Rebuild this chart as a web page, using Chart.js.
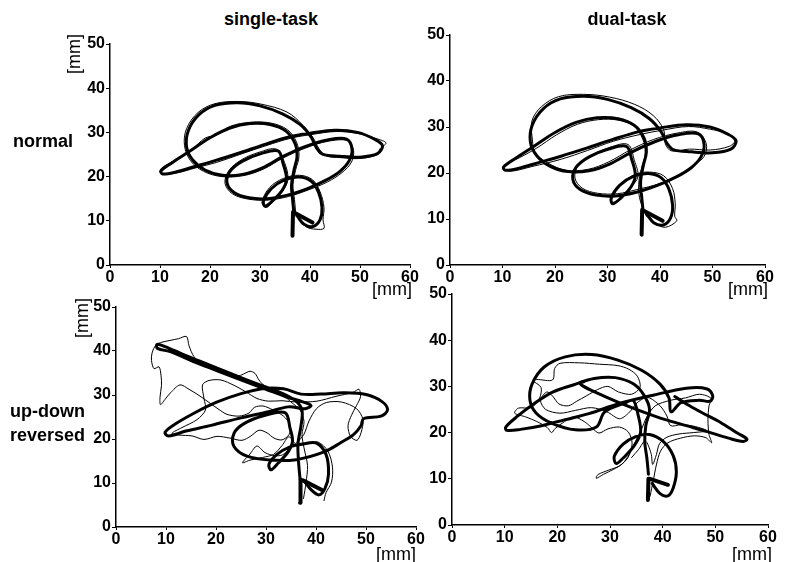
<!DOCTYPE html>
<html><head><meta charset="utf-8">
<script src="https://cdn.jsdelivr.net/npm/chart.js@4/dist/chart.umd.min.js"></script>
<style>
html,body{margin:0;padding:0;background:#fff}
body{width:786px;height:562px;position:relative;overflow:hidden;font-family:"Liberation Sans",Arial,sans-serif;color:#000}
canvas{position:absolute}
.t{position:absolute;white-space:nowrap;line-height:1;transform:translate(-50%,-50%)}
.b{font-weight:bold;font-size:18px}
.l{position:absolute;white-space:nowrap;line-height:1;font-weight:bold;font-size:18px}
.u{font-size:18px}
.v{transform:translate(-50%,-50%) rotate(-90deg)}
</style></head><body>
<canvas id="c1"></canvas><canvas id="c2"></canvas><canvas id="c3"></canvas><canvas id="c4"></canvas>
<div class="t b" style="left:271px;top:19px">single-task</div>
<div class="t b" style="left:627px;top:19px">dual-task</div>
<div class="l" style="left:13px;top:132px">normal</div>
<div class="l" style="left:10px;top:402px">up-down</div>
<div class="l" style="left:10px;top:426px">reversed</div>
<div class="t u v" style="left:74px;top:54px">[mm]</div>
<div class="t u v" style="left:82px;top:318px">[mm]</div>
<div class="t u" style="left:392px;top:289px">[mm]</div>
<div class="t u" style="left:748px;top:289px">[mm]</div>
<div class="t u" style="left:396px;top:554px">[mm]</div>
<div class="t u" style="left:752px;top:554px">[mm]</div>
<script>
// axis ticks
const xTicks = [0, 10, 20, 30, 40, 50, 60];
const yTicks = [0, 10, 20, 30, 40, 50];

// target pattern (thick) used in the normal condition [x mm, y mm]
const targetPath = [[36.8,11.5],[36.5,15],[36.3,18],[36.8,21.5],[37.4,24.5],[37,27.5],[35.2,30.3],[32,31.8],[28,32],[24,31],[20,28.8],[16,25.8],[12.5,23.2],[10.2,21.3],[10.5,20.6],[13,21],[17,22.3],[21,23.6],[26,25.4],[31,27.3],[36,29],[40,29.8],[45,30.5],[49.5,30],[53,28.4],[54.5,27],[53.5,25.2],[50,24.4],[46,24.6],[42.5,25.1],[41.3,26.5],[40.2,29],[38,31.8],[34.5,34.2],[30,36],[25.5,36.7],[21,36.1],[17.8,34],[15.7,30.5],[15.3,26.8],[16.5,23.8],[19,21.5],[22.5,20.3],[26.5,20.5],[30.5,22],[34.5,24.5],[39,26.8],[43.5,28.3],[47.3,28.5],[48.4,26.2],[47.8,23.5],[46,21.2],[43.2,19.2],[39.5,17.3],[35.5,15.8],[31.5,15],[27.8,15.2],[24.8,16.4],[23.4,18.6],[24,21.2],[26.5,23.5],[30.2,25.2],[33.6,25.8],[34.6,23],[35.3,19.5],[34.5,17],[32.5,14.5],[31,13.3],[30.7,14.5],[32.3,17.3],[35,19.3],[37.8,19.9],[40.2,19],[41.7,16.5],[42.4,13],[42,10.2],[40.6,8.7],[38.8,9.2],[37.5,11]];
const arrowTopStem = [[36.5,6.6],[36.6,12]];
const arrowTopHead = [[36.9,11.8],[40.5,9.6]];

// normal / single-task thin trace
const normSingleThin = [[37.2,11],[36.9,14.8],[36.6,18.2],[37.1,21.4],[37.8,24.6],[37.3,27.8],[35.5,30.6],[32.2,32.1],[28.2,32.3],[24.1,31.4],[21.2,29.4],[19,28.7],[16.4,26.2],[12.8,23.6],[10.3,21.9],[10.1,20.8],[12.8,20.7],[17.2,22],[21.3,23.2],[26.2,25.1],[31.2,27],[36.2,28.7],[40.2,29.5],[45.2,30.2],[49.8,29.7],[53.8,28.4],[55.2,27.6],[54,26.3],[53.5,25],[50,24.1],[46,24.3],[43.2,24.7],[41.8,26.3],[40.6,28.8],[38.6,31.6],[35.4,34.6],[30.2,36.4],[25.6,37],[21,36.5],[17.6,34.5],[15.3,30.8],[14.9,27],[16.1,23.6],[18.7,21.2],[22.4,20],[26.6,20.2],[30.7,21.7],[34.6,24.2],[39.2,26.5],[43.6,28],[47.6,28.1],[48.7,26],[48.3,23.3],[46.4,20.9],[43.5,18.8],[39.7,17],[35.7,15.5],[31.6,14.7],[27.7,14.9],[24.5,16.1],[23,18.5],[23.8,21.4],[26.3,23.8],[29.8,25.5],[33.3,26.2],[34.9,23.2],[35.6,19.6],[34.8,17.2],[32.8,14.7],[31.3,13],[30.4,14.2],[31.9,17.5],[34.7,19.6],[37.9,20.3],[40.5,19.3],[42,16.6],[42.8,13],[42.6,10.2],[42.8,8.3],[41.2,8.1],[39.3,8.6],[37.9,10.6]];

// normal / dual-task thin trace
const normDualThin = [[37.4,10.6],[36.1,14.6],[36,18.4],[36.6,21.6],[37.2,24.3],[36.7,27.4],[35,30.2],[32,31.5],[28.3,31.6],[24.3,30.6],[20.3,28.3],[16.5,25.4],[13.2,23.3],[10.8,22],[10,21],[11.6,20.4],[15.6,21.4],[21.2,23],[26.2,24.9],[31.1,26.9],[36.3,28.4],[40.4,29.3],[45.4,30.1],[49.6,29.5],[52.6,28.6],[54.2,27],[53.2,25.8],[49.6,25],[45.6,25.2],[42.2,24.8],[41,26.4],[40.7,29.4],[38.7,32.5],[35.2,34.9],[30.4,36.5],[25.4,37.1],[20.7,36.6],[17.4,34.4],[15.6,31.3],[15.7,27.2],[16.2,24.4],[18.6,22.2],[22.1,20.6],[26.3,20.8],[30.2,22.4],[34.3,25],[38.8,27.3],[43.4,28.7],[47.1,28.9],[48.8,26.4],[48.4,23.6],[46.5,21.8],[43.6,19.6],[39.9,17.7],[35.6,16.4],[31.9,15.5],[28.1,15.6],[25.2,16.7],[23.8,18.9],[24.4,21.6],[26.9,23.8],[30.5,25.6],[33.9,26.2],[35.1,22.8],[35.8,19.2],[34.3,16.8],[32.2,14.3],[30.8,13.6],[31,14.9],[32.6,17.6],[35.3,19.7],[38,20.2],[40.7,19.4],[42.4,16.6],[42.9,13.3],[42.8,10.6],[43.2,9.6],[41,8.2],[39.1,9.1],[37.8,10.8]];

// up-down reversed / single-task
const revSingleThick = [[36.8,11],[36.5,15],[36.4,19],[37,23],[37.2,26.5],[36,28.6],[33,30.5],[28.5,32.4],[23.5,34.6],[18.5,36.9],[13.5,39.2],[9.8,41],[8.2,41.5],[8.3,40.6],[11,39.8],[15.5,37.6],[20.5,35.4],[25.5,33.2],[30,31.3],[34,29.6],[37.5,28.4],[39,27.6],[37.8,26.9],[34.5,27.3],[30.5,26.2],[25,24.8],[19,23.1],[14,21.8],[10.5,20.7],[9.8,21.5],[12,23.5],[15.5,25.8],[20,28.3],[25,30.3],[29.5,31.5],[33.5,31.4],[37,30.2],[41,30.2],[45.5,30.5],[50,30.1],[53.2,28.5],[54.3,26.6],[53,25.2],[49.5,24.6],[49,23],[47.5,21],[45,19.2],[41.5,17],[36,15.3],[30.8,15.2],[26.2,16.1],[23.6,18.3],[23.6,21.3],[25.6,23.5],[29.5,25.3],[33.8,26],[34.8,22.5],[35.3,19.5],[34.5,17.2],[32.5,14.6],[31,13],[30.6,14.3],[32.2,16.5],[34.8,18.2],[37.5,18.9],[40,19.1],[42,16.5],[42.5,12],[41.8,8.8],[40.6,7.3],[39,8.5],[37.6,10.5]];
const revSingleThin = [[37.5,6.5],[38,10],[38.3,14],[37.6,18],[37.2,21],[37.6,24],[36.8,26.6],[35,28.4],[33.2,30.2],[31.2,31.4],[29.6,32.2],[28.6,33.4],[27.8,34.9],[26.8,35.4],[25.2,34.6],[24,34.2],[22.2,34.9],[19.7,35.6],[17.4,36.8],[15.6,38.7],[14.6,41.2],[14.1,43.3],[12.5,42.8],[10.8,42.4],[9.2,42],[8,41.4],[7.2,39.5],[7.1,37.8],[7.6,36],[8.6,36.4],[9,34.5],[9.1,32.2],[8.8,29.5],[8.9,27.8],[9.8,29],[10.9,30.5],[12.8,32.3],[14.6,31.3],[16.6,29.9],[18.6,28.3],[20.6,26.7],[22.2,25.6],[24.6,25.2],[26.6,25.9],[27.7,27.2],[29.4,27.5],[31.4,26.6],[33.5,25.2],[34.8,23.2],[34.6,21],[33.2,19.8],[31.6,20.2],[30.2,21.4],[28.6,22],[27,20.7],[25.2,19.7],[22.8,20.2],[20.2,20.6],[17.6,19.9],[15.2,20.7],[12.6,20.9],[11.2,21.3],[13.2,22.6],[16.2,24.4],[17.9,26.6],[17.6,29.2],[17.3,32.3],[18.6,33.3],[21,33.4],[23.6,32.2],[26,30.7],[28.2,29.2],[30.5,28.6],[33.2,28.7],[36.2,28.4],[40.2,28.6],[44,29.7],[47.4,30.6],[48.6,31.3],[48.9,29.6],[48.1,27.6],[47.1,25.4],[46.4,23],[46.9,20.6],[48.2,19.7],[49,21.4],[49.4,24.4],[48.1,26.9],[45.1,28.4],[42.1,28.3],[40.1,26.9],[38.6,24.1],[37.6,21.1],[36.1,19.1],[34.5,17.6],[33.3,16.4],[31.8,16.2],[29.8,16.9],[28.2,18.4],[26.8,16.6],[25.3,14.6],[26.8,15.2],[29.3,15.8],[31.5,16.5],[33.2,18.5],[34.6,20.5],[36.2,18.6],[38.2,18.9],[40.4,19.3],[42.4,17.2],[43.3,13.6],[43.1,10.2],[42,7.8],[41.6,6]];
const arrowRevSingleStem = [[36.8,5.5],[36.9,10.8]];
const arrowRevSingleHead = [[37.4,10.6],[41.2,8.4]];

// up-down reversed / dual-task
const revDualThick = [[37.3,11],[37,14.5],[36.6,18],[36.8,21.5],[37.5,25],[36.5,28],[34.5,30.5],[31,31.9],[27,31.7],[23,30.3],[19.2,28.8],[15.5,26.2],[12.5,23.6],[10.2,21.2],[10.4,20.5],[13,20.7],[17,21.5],[21.5,22.8],[26,24.1],[31.8,26.3],[38.2,28.1],[44.5,29.6],[48.3,29.5],[49.5,28],[49,26.8],[47,27],[43.5,26.5],[41.6,24.5],[41.2,27.5],[39.5,30.5],[36,33.5],[31.5,35.7],[26.5,36.9],[21.5,36.4],[17.5,34.2],[15.2,30.5],[14.8,27],[16,24.2],[19,22],[23.4,20.6],[27.4,21.2],[29,24.5],[33,26.5],[34.4,27],[35.3,24],[35.8,20],[34.5,17],[32.5,14.5],[31.2,13.3],[30.8,14.8],[32.5,17.5],[35,19.2],[37.5,19.6],[40.2,18],[42,15],[42.6,11.5],[42,8],[41,6.3],[39.5,6.8],[38,9]];
const revDualLoop = [[42.3,27.8],[44.5,26.2],[47.5,24.3],[51,22.2],[54,20],[56,18.6],[55.3,18.1],[52.5,18.8],[48.5,20.2],[44.5,21.5],[40.5,22.8],[36,24.6],[31.5,26.6],[27.5,28.6],[25,30],[24.3,30.8],[25,31]];
const revDualThin = [[37.6,6.2],[38.2,9.5],[38.8,13],[39.6,16],[41,17.8],[43.4,18.8],[46,19.3],[48.2,18.9],[49.3,17.8],[48.8,19.6],[48.6,22.8],[48.8,25.8],[49.2,27.4],[47,28.3],[44.3,27.5],[41.5,27],[38.6,25.8],[37,23.4],[35.9,20.5],[34.7,17.8],[33.7,15.4],[32.4,13.3],[30.6,12],[28.8,11],[27.4,10.1],[27.7,10.9],[29.8,11.9],[31.8,12.8],[33.4,14.6],[34.2,17.6],[33.5,20.1],[31.8,21.2],[29.6,20.8],[27.9,19.9],[26.6,21],[25.1,22.4],[23.1,23.4],[21.4,22.4],[19.6,20.9],[18.9,20],[18.1,21.1],[16.1,22.4],[14,23.4],[11.9,24.2],[12.6,25.3],[15,25.4],[16.6,27.4],[16.9,29.8],[15.3,31.3],[16.1,31.5],[19.1,31.4],[19.5,33.9],[20.5,35],[24.2,35.1],[28,34.8],[31.5,34.5],[33.6,33.7],[35.2,32.2],[35.7,29.8],[34.1,28.3],[31.6,28.8],[29.6,30],[27.6,29.3],[25.6,28],[23.7,26.8],[22.1,25.8],[20.3,26.2],[19.1,27.9],[18,28.8],[16.8,27],[17.8,25],[20.5,24.2],[23.4,24.8],[26.5,25.4],[29.4,24.5],[31.8,23],[33.5,24.2],[35.3,26.6],[37.2,27.6],[39.5,25.8],[40.8,23.6],[41.5,21.5],[43.5,21.7],[46.2,21.3],[48.4,20.4],[45.8,20],[43.1,19.7],[40.8,19],[39.4,17.6],[38.8,15.2],[38.1,13.1],[37.8,15.5],[36.7,18.2],[35.4,16.3],[34.1,14.6]];
const arrowRevDualStem = [[37.2,5.4],[37.3,10]];
const arrowRevDualHead = [[37.6,10],[41,8.7]];

function trace(points, width, tension) {
  return {
    data: points.map(p => ({x: p[0], y: p[1]})),
    showLine: true, borderColor: '#000', borderWidth: width,
    pointRadius: 0, pointHoverRadius: 0, tension: tension,
    borderCapStyle: 'round', borderJoinStyle: 'round', fill: false
  };
}

function makeChart(id, area, datasets) {
  const padL = 46, padR = 16, padT = 12, padB = 26;
  const cv = document.getElementById(id);
  const w = area.right - area.left + padL + padR;
  const h = area.bottom - area.top + padT + padB;
  cv.style.left = (area.left - padL) + 'px';
  cv.style.top = (area.top - padT) + 'px';
  cv.width = w; cv.height = h;
  cv.style.width = w + 'px'; cv.style.height = h + 'px';
  const tickFont = {family: '"Liberation Sans", Arial, sans-serif', size: 16, weight: 'bold'};
  new Chart(cv, {
    type: 'scatter',
    data: {datasets: datasets},
    options: {
      responsive: false, animation: false,
      layout: {padding: {top: padT, right: padR, left: 0, bottom: 0}},
      plugins: {legend: {display: false}, tooltip: {enabled: false}},
      scales: {
        x: {
          type: 'linear', min: xTicks[0], max: xTicks[xTicks.length - 1],
          afterBuildTicks: s => { s.ticks = xTicks.map(v => ({value: v})); },
          ticks: {color: '#000', font: tickFont, padding: 0, maxRotation: 0, autoSkip: false},
          grid: {drawOnChartArea: false, drawTicks: true, tickLength: 3, tickColor: '#000', tickWidth: 1},
          border: {display: true, color: '#000', width: 1.5},
          afterFit: s => { s.height = padB; }
        },
        y: {
          type: 'linear', min: yTicks[0], max: yTicks[yTicks.length - 1],
          afterBuildTicks: s => { s.ticks = yTicks.map(v => ({value: v})); },
          ticks: {color: '#000', font: tickFont, padding: 1, autoSkip: false},
          grid: {drawOnChartArea: false, drawTicks: true, tickLength: 4, tickColor: '#000', tickWidth: 1},
          border: {display: true, color: '#000', width: 1.5},
          afterFit: s => { s.width = padL; }
        }
      }
    }
  });
}

makeChart('c1', {left: 110, right: 410, top: 44, bottom: 265}, [
  trace(targetPath, 3, 0.35), trace(normSingleThin, 1, 0.35),
  trace(arrowTopStem, 4, 0), trace(arrowTopHead, 4, 0)
]);
makeChart('c2', {left: 450, right: 765, top: 35, bottom: 265}, [
  trace(targetPath, 3, 0.35), trace(normDualThin, 1, 0.35),
  trace(arrowTopStem, 4, 0), trace(arrowTopHead, 4, 0)
]);
makeChart('c3', {left: 116, right: 416, top: 307, bottom: 527}, [
  trace(revSingleThick, 3, 0.35), trace(revSingleThin, 1, 0.3),
  trace(arrowRevSingleStem, 4, 0), trace(arrowRevSingleHead, 4, 0)
]);
makeChart('c4', {left: 452, right: 768, top: 294, bottom: 525}, [
  trace(revDualThick, 3, 0.35), trace(revDualLoop, 3, 0.35), trace(revDualThin, 1, 0.3),
  trace(arrowRevDualStem, 4, 0), trace(arrowRevDualHead, 4, 0)
]);
</script>
</body></html>
